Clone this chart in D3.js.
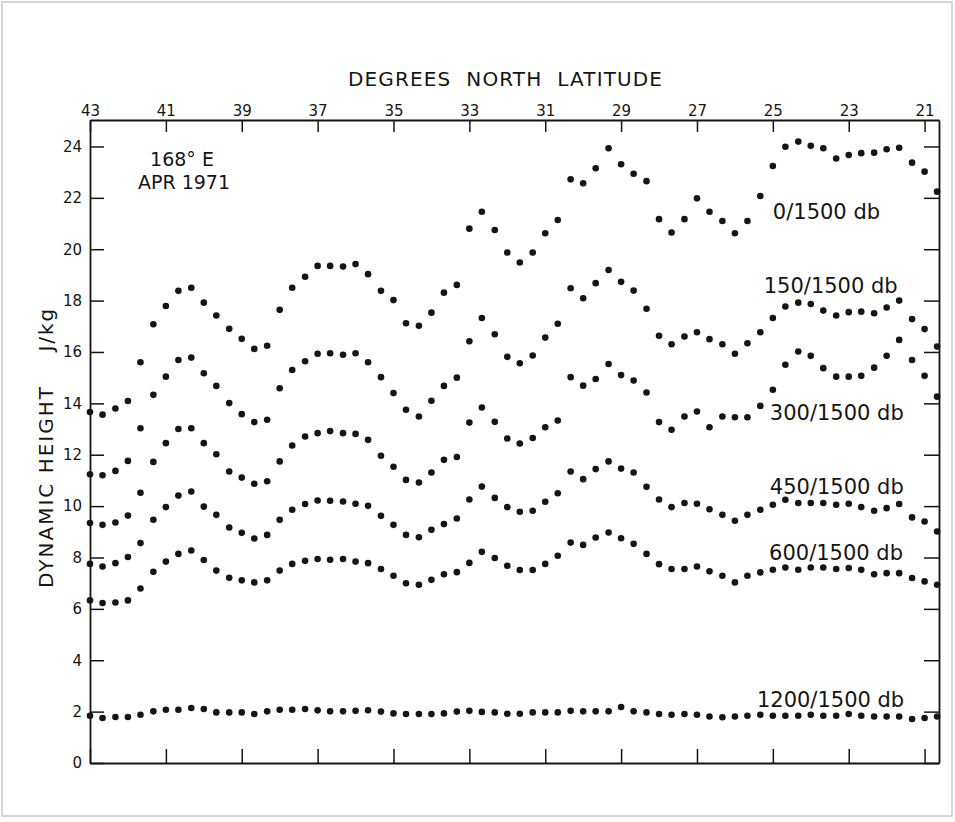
<!DOCTYPE html>
<html>
<head>
<meta charset="utf-8">
<script src="https://cdn.jsdelivr.net/npm/d3@7/dist/d3.min.js"></script>
<style>
  html, body { margin: 0; padding: 0; background: #fff; }
  svg { display: block; }
  text { font-family: "DejaVu Sans", "Liberation Sans", sans-serif; fill: #151515; }
</style>
</head>
<body>
<svg id="chart" width="955" height="822"></svg>
<script>
// Station latitudes (degrees N) along 168°E, April 1971
const latitudes = [
  43.00, 42.67, 42.33, 42.00, 41.67, 41.33, 41.00, 40.67, 40.33, 40.00,
  39.67, 39.33, 39.00, 38.67, 38.33, 38.00, 37.67, 37.33, 37.00, 36.67,
  36.33, 36.00, 35.67, 35.33, 35.00, 34.67, 34.33, 34.00, 33.67, 33.33,
  33.00, 32.67, 32.33, 32.00, 31.67, 31.33, 31.00, 30.67, 30.33, 30.00,
  29.67, 29.33, 29.00, 28.67, 28.33, 28.00, 27.67, 27.33, 27.00, 26.67,
  26.33, 26.00, 25.67, 25.33, 25.00, 24.67, 24.33, 24.00, 23.67, 23.33,
  23.00, 22.67, 22.33, 22.00, 21.67, 21.33, 21.00, 20.67
];

// Dynamic height (J/kg) of each surface relative to 1500 db
const height0 = [
  13.66, 13.56, 13.80, 14.09, 15.60, 17.08, 17.79, 18.38, 18.50, 17.92,
  17.42, 16.90, 16.51, 16.12, 16.24, 17.64, 18.50, 18.93, 19.35, 19.35,
  19.33, 19.42, 19.03, 18.38, 18.02, 17.12, 17.02, 17.53, 18.31, 18.61,
  20.80, 21.46, 20.75, 19.87, 19.48, 19.87, 20.62, 21.14, 22.72, 22.57,
  23.15, 23.93, 23.31, 22.94, 22.65, 21.17, 20.65, 21.17, 21.98, 21.46,
  21.10, 20.62, 21.10, 22.07, 23.24, 23.99, 24.19, 24.03, 23.93, 23.53,
  23.67, 23.74, 23.76, 23.89, 23.95, 23.37, 23.02, 22.24
];
const height150 = [
  11.24, 11.20, 11.37, 11.76, 13.03, 14.33, 15.04, 15.69, 15.78, 15.17,
  14.68, 14.01, 13.58, 13.27, 13.36, 14.59, 15.30, 15.64, 15.93, 15.95,
  15.89, 15.95, 15.60, 15.02, 14.40, 13.75, 13.49, 14.10, 14.68, 15.00,
  16.42, 17.32, 16.69, 15.81, 15.56, 15.86, 16.56, 17.10, 18.48, 18.09,
  18.68, 19.19, 18.73, 18.39, 17.68, 16.63, 16.30, 16.60, 16.77, 16.50,
  16.30, 15.93, 16.34, 16.77, 17.32, 17.77, 17.92, 17.87, 17.61, 17.42,
  17.55, 17.57, 17.51, 17.73, 18.00, 17.28, 16.89, 16.21
];
const height300 = [
   9.34,  9.27,  9.36,  9.63, 10.52, 11.72, 12.45, 13.00, 13.03, 12.45,
  12.02, 11.35, 11.11, 10.87, 10.97, 11.74, 12.36, 12.71, 12.84, 12.92,
  12.84, 12.81, 12.58, 11.96, 11.53, 11.02, 10.92, 11.31, 11.80, 11.91,
  13.25, 13.84, 13.28, 12.63, 12.44, 12.65, 13.07, 13.33, 15.02, 14.69,
  14.95, 15.53, 15.10, 14.89, 14.42, 13.27, 12.97, 13.49, 13.68, 13.07,
  13.49, 13.46, 13.46, 13.90, 14.53, 15.50, 16.02, 15.85, 15.37, 15.04,
  15.04, 15.07, 15.39, 15.85, 16.47, 15.69, 15.07, 14.26
];
const height450 = [
   7.75,  7.65,  7.78,  8.02,  8.56,  9.47,  9.96, 10.41, 10.57,  9.98,
   9.66,  9.17,  8.96,  8.74,  8.88,  9.47,  9.86, 10.08, 10.22, 10.21,
  10.18, 10.09, 10.01,  9.62,  9.27,  8.88,  8.79,  9.08,  9.30,  9.52,
  10.26, 10.76, 10.32,  9.96,  9.78,  9.82, 10.17, 10.50, 11.35, 11.05,
  11.44, 11.74, 11.46, 11.31, 10.75, 10.26,  9.96, 10.12, 10.09,  9.88,
   9.66,  9.43,  9.66,  9.86, 10.05, 10.25, 10.12, 10.12, 10.12, 10.05,
  10.09,  9.96,  9.82,  9.92, 10.08,  9.56,  9.40,  9.01
];
const height600 = [
   6.33,  6.23,  6.25,  6.33,  6.79,  7.44,  7.84,  8.14,  8.27,  7.90,
   7.49,  7.21,  7.11,  7.03,  7.11,  7.49,  7.75,  7.87,  7.94,  7.91,
   7.94,  7.84,  7.78,  7.55,  7.29,  7.00,  6.94,  7.13,  7.35,  7.43,
   7.79,  8.22,  7.98,  7.68,  7.51,  7.51,  7.75,  8.07,  8.58,  8.49,
   8.78,  8.97,  8.75,  8.53,  8.14,  7.74,  7.55,  7.55,  7.65,  7.46,
   7.29,  7.03,  7.29,  7.42,  7.52,  7.61,  7.52,  7.61,  7.61,  7.55,
   7.59,  7.52,  7.35,  7.39,  7.39,  7.20,  7.07,  6.94
];
const height1200 = [
  1.84, 1.75, 1.79, 1.79, 1.88, 2.01, 2.07, 2.07, 2.14, 2.10,
  1.97, 1.97, 1.97, 1.91, 2.01, 2.07, 2.07, 2.10, 2.05, 2.01,
  2.01, 2.03, 2.05, 2.00, 1.93, 1.91, 1.91, 1.91, 1.93, 2.00,
  2.03, 1.99, 1.97, 1.92, 1.92, 1.97, 1.97, 1.97, 2.03, 2.01,
  2.01, 2.01, 2.18, 2.01, 1.97, 1.91, 1.88, 1.91, 1.88, 1.81,
  1.78, 1.81, 1.84, 1.88, 1.84, 1.84, 1.84, 1.88, 1.84, 1.84,
  1.91, 1.84, 1.81, 1.81, 1.81, 1.71, 1.75, 1.81
];

const seriesValues = [height0, height150, height300, height450, height600, height1200];
const seriesNames = ["0/1500 db", "150/1500 db", "300/1500 db", "450/1500 db", "600/1500 db", "1200/1500 db"];
// label anchor: [latitude, dynamic height] at the label's left baseline
const labelLat = [25.0, 25.24, 25.08, 25.08, 25.1, 25.42];
const labelHeight = [21.18, 18.3, 13.35, 10.47, 7.9, 2.18];

const latTicks = [43, 41, 39, 37, 35, 33, 31, 29, 27, 25, 23, 21];
const heightTicks = [0, 2, 4, 6, 8, 10, 12, 14, 16, 18, 20, 22, 24];

const svg = d3.select("#chart");
const ink = "#151515";

// thin page border
svg.append("rect")
  .attr("x", 2).attr("y", 2).attr("width", 950).attr("height", 814)
  .attr("fill", "none").attr("stroke", "#c8c8c8").attr("stroke-width", 1.5);

const x = d3.scaleLinear().domain([43, 20.62]).range([90, 939]);
const y = d3.scaleLinear().domain([0, 25.03]).range([763, 120]);

function styleAxis(g) {
  g.selectAll("path.domain").attr("stroke", ink).attr("stroke-width", 1.8);
  g.selectAll(".tick line").attr("stroke", ink).attr("stroke-width", 1.5);
  g.selectAll(".tick text").attr("fill", ink).attr("font-size", 15)
    .attr("font-family", "DejaVu Sans, sans-serif");
}

svg.append("g").attr("transform", "translate(0,120)")
  .call(d3.axisTop(x).tickValues(latTicks).tickSizeInner(-12).tickSizeOuter(0).tickPadding(4).tickFormat(d3.format("d")))
  .call(styleAxis);

svg.append("g").attr("transform", "translate(0,763)")
  .call(d3.axisBottom(x).tickValues(latTicks).tickSizeInner(-14).tickSizeOuter(0).tickFormat(""))
  .call(styleAxis);

svg.append("g").attr("transform", "translate(90,0)")
  .call(d3.axisLeft(y).tickValues(heightTicks).tickSizeInner(-14).tickSizeOuter(0).tickPadding(8).tickFormat(d3.format("d")))
  .call(styleAxis);

svg.append("g").attr("transform", "translate(939,0)")
  .call(d3.axisRight(y).tickValues(heightTicks).tickSizeInner(-15).tickSizeOuter(0).tickFormat(""))
  .call(styleAxis);

// axis titles
svg.append("text")
  .attr("x", 348).attr("y", 86)
  .attr("font-size", 20)
  .attr("textLength", 314)
  .attr("lengthAdjust", "spacing")
  .style("white-space", "pre")
  .text("DEGREES  NORTH  LATITUDE");

svg.append("text")
  .attr("transform", "translate(53,588) rotate(-90)")
  .attr("font-size", 20)
  .attr("letter-spacing", 2)
  .style("white-space", "pre")
  .text("DYNAMIC HEIGHT    J/kg");

// section annotation
svg.append("text").attr("x", 182).attr("y", 166).attr("text-anchor", "middle")
  .attr("font-size", 19).text("168° E");
svg.append("text").attr("x", 184).attr("y", 189).attr("text-anchor", "middle")
  .attr("font-size", 19).text("APR 1971");

// station dots for every surface
const plot = svg.append("g");
seriesValues.forEach((vals) => {
  plot.append("g").selectAll("circle")
    .data(vals)
    .join("circle")
    .attr("cx", (d, i) => x(latitudes[i]))
    .attr("cy", d => y(d))
    .attr("r", 3.3)
    .attr("fill", ink);
});

// surface labels
seriesNames.forEach((name, i) => {
  svg.append("text")
    .attr("x", x(labelLat[i]))
    .attr("y", y(labelHeight[i]))
    .attr("font-size", 21)
    .text(name);
});
</script>
</body>
</html>
